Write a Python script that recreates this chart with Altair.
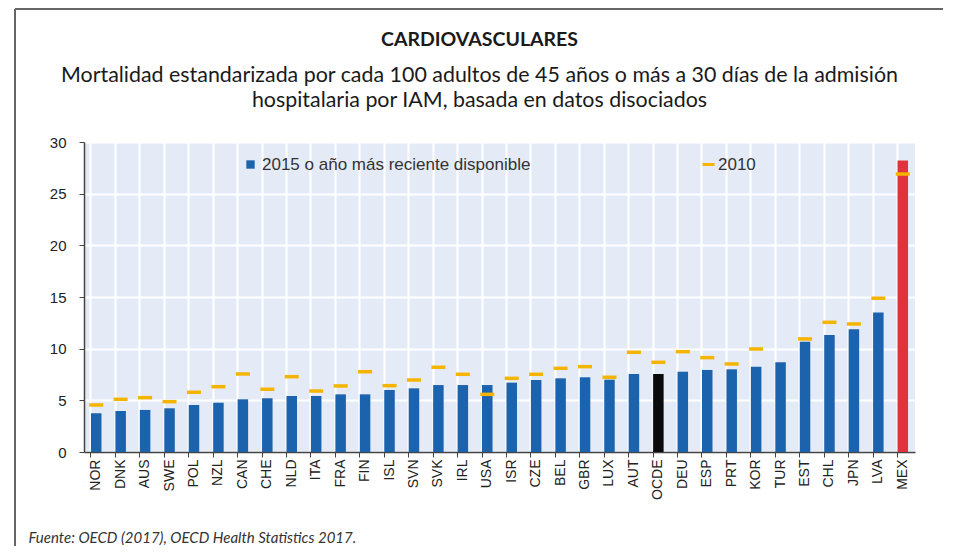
import altair as alt
import pandas as pd

paises = ["NOR", "DNK", "AUS", "SWE", "POL", "NZL", "CAN", "CHE", "NLD", "ITA",
          "FRA", "FIN", "ISL", "SVN", "SVK", "IRL", "USA", "ISR", "CZE", "BEL",
          "GBR", "LUX", "AUT", "OCDE", "DEU", "ESP", "PRT", "KOR", "TUR", "EST",
          "CHL", "JPN", "LVA", "MEX"]
valores_2015 = [3.75, 3.97, 4.07, 4.23, 4.55, 4.77, 5.10, 5.20, 5.42, 5.42,
                5.58, 5.58, 6.00, 6.16, 6.48, 6.48, 6.48, 6.71, 6.97, 7.13,
                7.23, 7.00, 7.55, 7.55, 7.77, 7.94, 8.00, 8.26, 8.68, 10.68,
                11.33, 11.88, 13.49, 28.2]
valores_2010 = [4.55, 5.10, 5.26, 4.87, 5.78, 6.32, 7.55, 6.07, 7.29, 5.90,
                6.39, 7.77, 6.42, 6.97, 8.20, 7.52, 5.58, 7.13, 7.52, 8.10,
                8.26, 7.23, 9.65, 8.68, 9.71, 9.13, 8.52, 9.97, None, 10.94,
                12.55, 12.39, 14.88, 26.9]

serie_principal = "2015 o año más reciente disponible"
serie_2010 = "2010"
grupos = [serie_principal if p not in ("OCDE", "MEX") else p for p in paises]

df = pd.DataFrame({
    "pais": paises,
    "v2015": valores_2015,
    "v2010": valores_2010,
    "grupo": grupos,
    "serie": [serie_2010] * len(paises),
})

AZUL = "#1c63ae"
NEGRO = "#0a0a0a"
ROJO = "#e2333d"
NARANJA = "#f5b400"

x_enc = alt.X(
    "pais:N", sort=paises,
    scale=alt.Scale(paddingInner=0.57, paddingOuter=0.285),
    axis=alt.Axis(
        title="Fuente: OECD (2017), OECD Health Statistics 2017.",
        labelAngle=-90, labelFont="Liberation Sans", labelFontSize=14,
        labelColor="#222", labelPadding=2, tickSize=5, tickColor="#444",
        domainColor="#444", domainWidth=1.5, bandPosition=0,
        grid=True, gridColor="white", gridWidth=2,
        titleX=-56, titleY=85, titleAlign="left", titleBaseline="middle",
        titleAngle=0, titleFont="Lato", titleFontStyle="italic",
        titleFontWeight="normal", titleFontSize=15, titleColor="#333",
    ),
)

y_enc = alt.Y(
    "v2015:Q",
    scale=alt.Scale(domain=[0, 30], nice=False),
    axis=alt.Axis(
        title=None, values=[0, 5, 10, 15, 20, 25, 30],
        labelFont="Liberation Sans", labelFontSize=15, labelColor="#222",
        labelPadding=13, tickSize=5, tickColor="#444",
        domainColor="#444", domainWidth=1.5,
        grid=True, gridColor="white", gridWidth=2,
    ),
)

barras = alt.Chart(df).mark_bar().encode(
    x=x_enc,
    y=y_enc,
    fill=alt.Fill(
        "grupo:N",
        scale=alt.Scale(domain=[serie_principal, "OCDE", "MEX"], range=[AZUL, NEGRO, ROJO]),
        legend=alt.Legend(
            values=[serie_principal], orient="none", legendX=158, legendY=14,
            title=None, symbolType="square", symbolSize=70, symbolStrokeWidth=0,
            labelFont="Liberation Sans", labelFontSize=17, labelColor="#333",
            labelOffset=3, padding=0, labelLimit=600,
        ),
    ),
)

marcas_2010 = alt.Chart(df).mark_point(
    shape="stroke", size=196, strokeWidth=3.5, filled=False, opacity=1
).encode(
    x=alt.X("pais:N", sort=paises),
    y=alt.Y("v2010:Q"),
    stroke=alt.Stroke(
        "serie:N",
        scale=alt.Scale(domain=[serie_2010], range=[NARANJA]),
        legend=alt.Legend(
            orient="none", legendX=616, legendY=14, title=None,
            symbolType="stroke", symbolSize=144, symbolStrokeWidth=3,
            labelFont="Liberation Sans", labelFontSize=17, labelColor="#333",
            labelOffset=1, padding=0, labelLimit=600,
        ),
    ),
)

marco = pd.DataFrame({"k": [0]})
linea_sup = alt.Chart(marco).mark_rule(color="#666", strokeWidth=2).encode(
    x=alt.value(-69), x2=alt.value(900), y=alt.value(-133)
)
linea_izq = alt.Chart(marco).mark_rule(color="#666", strokeWidth=2).encode(
    x=alt.value(-69), y=alt.value(-133), y2=alt.value(430)
)

chart = alt.layer(barras, marcas_2010, linea_sup, linea_izq).properties(
    width=831,
    height=310,
    autosize=alt.AutoSizeParams(type="none"),
    padding={"left": 76, "top": 134, "right": 28, "bottom": 94},
    background="white",
    title=alt.TitleParams(
        text="CARDIOVASCULARES",
        subtitle=[
            "Mortalidad estandarizada por cada 100 adultos de 45 años o más a 30 días de la admisión",
            "hospitalaria por IAM, basada en datos disociados",
        ],
        anchor="middle", dx=-20, offset=-104,
        font="Lato", fontSize=19.5, fontWeight="bold", color="#1a1a1a",
        subtitleFont="Lato", subtitleFontSize=21.4, subtitleColor="#1a1a1a",
        subtitleLineHeight=25, subtitlePadding=14,
    ),
).configure_view(
    fill="#e5ebf6", stroke=None
).resolve_legend(fill="independent", stroke="independent")

chart.save("out.html", embed_options={"renderer": "svg", "actions": False})
